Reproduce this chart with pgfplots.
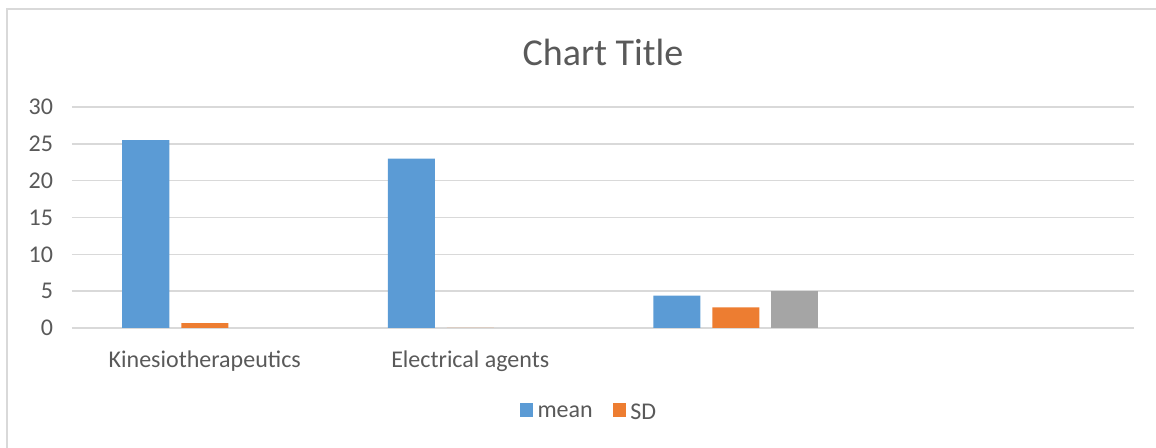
\documentclass[border=0pt]{standalone}
\usepackage{pgfplots}
\pgfplotsset{compat=1.18}
\usepackage{fontspec}
\setmainfont{Carlito}

\definecolor{meanblue}{HTML}{5B9BD5}
\definecolor{sdorange}{HTML}{ED7D31}
\definecolor{thirdgray}{HTML}{A5A5A5}
\definecolor{gridgray}{HTML}{D9D9D9}
\definecolor{txtgray}{HTML}{595959}

\begin{document}
\begin{tikzpicture}[x=1pt,y=1pt]
% 1 px of the reference = 0.5pt
\useasboundingbox (0,0) rectangle (578,224);
\draw[gridgray, line width=0.8pt] (3.5,0) -- (3.5,219.5) -- (578,219.5);

\begin{axis}[
    at={(36pt,60pt)}, anchor=south west,
    scale only axis,
    width=531pt, height=110.5pt,
    xmin=-0.5, xmax=3.5,
    ymin=0, ymax=30,
    ytick={0,5,...,30},
    xtick={0,1,2,3},
    xticklabels={Kinesiotherapeutics, Electrical agents, {}, {}},
    major tick length=0pt,
    axis line style={draw=none},
    ymajorgrids,
    grid style={gridgray, line width=0.8pt},
    tick label style={font=\fontsize{12}{13}\selectfont, text=txtgray},
    /pgf/number format/assume math mode=true,
    yticklabel style={xshift=-6pt},
    xticklabel style={yshift=-8pt},
    title={Chart Title},
    title style={font=\fontsize{19}{21}\selectfont, text=txtgray, at={(0.5,1)}, anchor=center, yshift=21.5pt},
    ybar, bar width=23.5pt,
    legend style={at={(259pt,-42.5pt)}, anchor=center, draw=none,
        font=\fontsize{12}{13}\selectfont, text=txtgray,
        legend columns=2, /tikz/every even column/.append style={column sep=8pt}},
    legend cell align=left,
]
\addplot[fill=meanblue, draw=none, bar shift=-29.5pt,
    legend image code/.code={\fill[meanblue] (0pt,-1.8pt) rectangle (6.8pt,5pt);}]
    coordinates {(0,25.5) (1,23.0) (2,4.4)};
\addlegendentry{mean}
\addplot[fill=sdorange, draw=none, bar shift=0pt,
    legend image code/.code={\fill[sdorange] (0pt,-1.8pt) rectangle (6.8pt,5pt);}]
    coordinates {(0,0.65) (1,0) (2,2.8)};
\addlegendentry{SD}
\addplot[fill=thirdgray, draw=none, bar shift=29.5pt, forget plot]
    coordinates {(2,5.0)};
\end{axis}
\end{tikzpicture}
\end{document}
